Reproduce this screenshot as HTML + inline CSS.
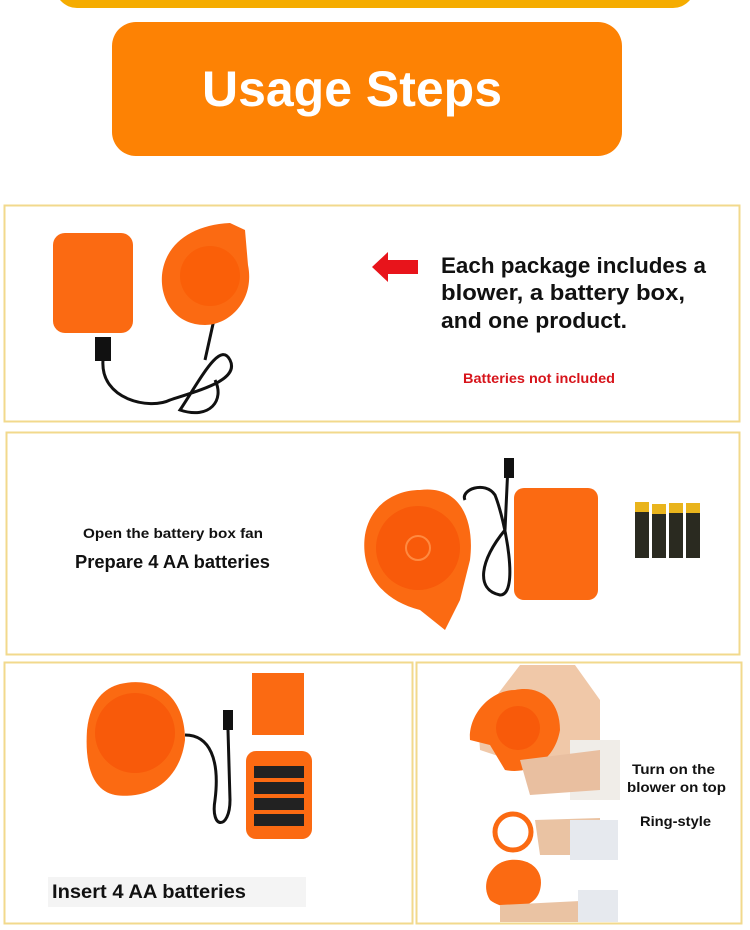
<!DOCTYPE html>
<html><head><meta charset="utf-8"><style>
html,body{margin:0;padding:0;background:#fff;width:750px;height:930px;overflow:hidden}
svg{display:block}
text{font-family:"Liberation Sans",sans-serif;font-weight:bold}
</style></head><body>
<svg width="750" height="930" viewBox="0 0 750 930" xmlns="http://www.w3.org/2000/svg">
<rect x="55" y="-40" width="640" height="48" rx="22" fill="#f5ac00"/>
<rect x="112" y="22" width="510" height="134" rx="24" fill="#fd8204"/>
<text x="352" y="106" font-size="50" fill="#fff" text-anchor="middle" textLength="300" lengthAdjust="spacingAndGlyphs">Usage Steps</text>

<!-- panels -->
<rect x="4.5" y="205.5" width="735" height="216" fill="#fff" stroke="#f2d98c" stroke-width="2"/>
<rect x="6.5" y="432.5" width="733" height="222" fill="#fff" stroke="#f2d98c" stroke-width="2"/>
<rect x="4.5" y="662.5" width="408" height="261" fill="#fff" stroke="#f2d98c" stroke-width="2"/>
<rect x="416.5" y="662.5" width="325" height="261" fill="#fff" stroke="#f2d98c" stroke-width="2"/>

<!-- panel1 -->
<rect x="53" y="233" width="80" height="100" rx="12" fill="#fb6a12"/>
<rect x="95" y="337" width="16" height="24" fill="#111"/>
<path d="M103 360 C100 400 150 410 170 400 C200 390 240 380 230 360 C220 340 200 380 180 410 C210 420 225 400 215 380" fill="none" stroke="#111" stroke-width="3"/>
<path d="M215 315 L205 360" stroke="#111" stroke-width="3"/>
<path d="M230 223 L245 230 L248 265 C255 300 230 325 205 325 C175 325 160 300 162 275 C165 245 190 225 230 223Z" fill="#fb6a12"/>
<circle cx="210" cy="276" r="30" fill="#fa5f08"/>
<path d="M388 252 L372 267 L388 282 L388 274 L418 274 L418 260 L388 260Z" fill="#e8141b"/>
<text x="441" y="273" font-size="22" fill="#111" textLength="265" lengthAdjust="spacingAndGlyphs">Each package includes a</text>
<text x="441" y="300" font-size="22" fill="#111" textLength="244" lengthAdjust="spacingAndGlyphs">blower, a battery box,</text>
<text x="441" y="328" font-size="22" fill="#111" textLength="186" lengthAdjust="spacingAndGlyphs">and one product.</text>
<text x="463" y="383" font-size="14" fill="#d7141b" textLength="152" lengthAdjust="spacingAndGlyphs">Batteries not included</text>

<!-- panel2 -->
<text x="83" y="538" font-size="14" fill="#111" textLength="180" lengthAdjust="spacingAndGlyphs">Open the battery box fan</text>
<text x="75" y="568" font-size="18" fill="#111" textLength="195" lengthAdjust="spacingAndGlyphs">Prepare 4 AA batteries</text>
<path d="M420 490 C460 485 475 520 470 560 L460 600 L445 630 L420 610 C380 600 360 570 365 535 C370 505 395 490 420 490Z" fill="#fb6a12"/>
<circle cx="418" cy="548" r="42" fill="#f85a0a"/>
<circle cx="418" cy="548" r="12" fill="none" stroke="#ff8a40" stroke-width="2"/>
<path d="M508 465 L505 530 C480 560 475 590 500 595 C520 595 505 520 495 495 C485 480 460 490 465 500" fill="none" stroke="#111" stroke-width="3"/>
<rect x="504" y="458" width="10" height="20" fill="#111"/>
<rect x="514" y="488" width="84" height="112" rx="10" fill="#fb6a12"/>
<g>
<rect x="635" y="502" width="14" height="56" fill="#2a2a20"/><rect x="635" y="502" width="14" height="10" fill="#e9b41c"/>
<rect x="652" y="504" width="14" height="54" fill="#2a2a20"/><rect x="652" y="504" width="14" height="10" fill="#e9b41c"/>
<rect x="669" y="503" width="14" height="55" fill="#2a2a20"/><rect x="669" y="503" width="14" height="10" fill="#e9b41c"/>
<rect x="686" y="503" width="14" height="55" fill="#2a2a20"/><rect x="686" y="503" width="14" height="10" fill="#e9b41c"/>
</g>

<!-- panel3 -->
<path d="M120 684 C160 675 185 700 185 740 C180 780 150 800 115 795 C90 790 85 760 87 730 C90 700 105 688 120 684Z" fill="#fb6a12"/>
<circle cx="135" cy="733" r="40" fill="#f85a0a"/>
<path d="M185 735 C210 735 220 760 215 800 C210 830 230 830 230 800 L228 730" fill="none" stroke="#111" stroke-width="3"/>
<rect x="223" y="710" width="10" height="20" fill="#111"/>
<rect x="252" y="673" width="52" height="62" fill="#fb6a12"/>
<rect x="246" y="751" width="66" height="88" rx="10" fill="#fb6a12"/>
<g fill="#222"><rect x="254" y="766" width="50" height="12"/><rect x="254" y="782" width="50" height="12"/><rect x="254" y="798" width="50" height="12"/><rect x="254" y="814" width="50" height="12"/></g>
<rect x="48" y="877" width="258" height="30" fill="#f4f4f4"/>
<text x="52" y="898" font-size="19" fill="#111" textLength="194" lengthAdjust="spacingAndGlyphs">Insert 4 AA batteries</text>

<!-- panel4 -->
<path d="M520 665 L575 665 L600 700 L600 760 L540 770 L480 750 L478 720 Z" fill="#f0c8a8"/>
<path d="M515 690 C540 685 560 700 560 730 C555 760 530 775 505 770 L490 745 L470 740 C468 715 490 690 515 690Z" fill="#fb6a12"/>
<circle cx="518" cy="728" r="22" fill="#f85a0a"/>
<rect x="570" y="740" width="50" height="60" fill="#f0ede8"/>
<path d="M520 760 L600 750 L600 790 L530 795Z" fill="#e9bfa0"/>
<circle cx="513" cy="832" r="18" fill="none" stroke="#fb6a12" stroke-width="5"/>
<path d="M535 820 L600 818 L600 855 L540 855Z" fill="#eac3a3"/>
<rect x="570" y="820" width="48" height="40" fill="#e6e9ee"/>
<path d="M510 860 C530 858 545 870 540 890 C535 910 505 912 490 900 C480 885 490 862 510 860Z" fill="#fb6a12"/>
<path d="M500 905 L600 900 L610 922 L500 922Z" fill="#eac3a3"/>
<rect x="578" y="890" width="40" height="32" fill="#e6e9ee"/>
<text x="632" y="774" font-size="14" fill="#111" textLength="83" lengthAdjust="spacingAndGlyphs">Turn on the</text>
<text x="627" y="792" font-size="14" fill="#111" textLength="99" lengthAdjust="spacingAndGlyphs">blower on top</text>
<text x="640" y="826" font-size="14" fill="#111" textLength="71" lengthAdjust="spacingAndGlyphs">Ring-style</text>
</svg>
</body></html>
